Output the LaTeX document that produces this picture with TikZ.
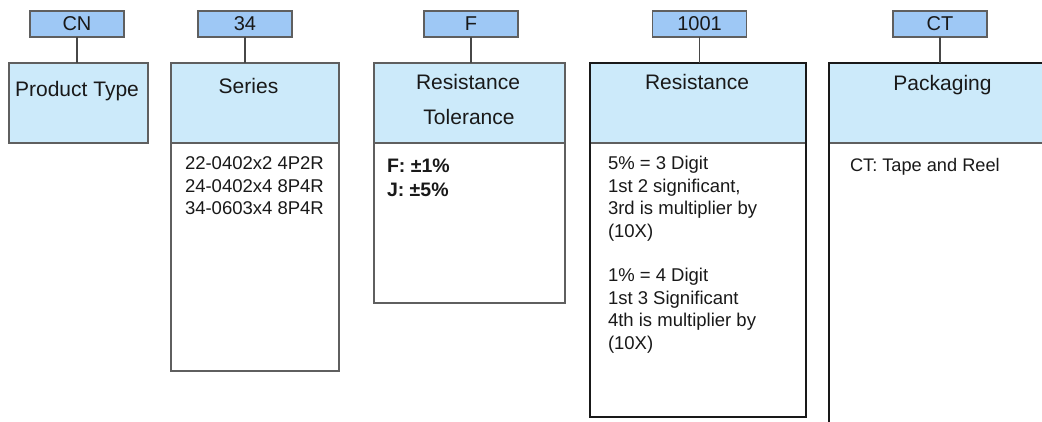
\documentclass[tikz,border=0pt]{standalone}
\usepackage{fontspec}
\setmainfont{Liberation Sans}
\definecolor{codefill}{RGB}{158,200,245}
\definecolor{hdrfill}{RGB}{204,234,250}
\definecolor{edge}{RGB}{95,95,95}
\definecolor{ink}{RGB}{25,25,25}
\newcommand{\lines}[1]{\begin{tabular}[t]{@{}l@{}}#1\end{tabular}}
\begin{document}
\begin{tikzpicture}[x=1pt,y=-1pt,
  every node/.style={inner sep=0pt,outer sep=0pt,text=ink},
  codebox/.style={draw=edge,line width=1.1pt,fill=codefill,minimum width=94pt,minimum height=26pt,
    font=\fontsize{20}{24}\selectfont},
  hdrbox/.style={draw=edge,line width=1.1pt,fill=hdrfill,minimum height=80pt,anchor=north west},
  bodybox/.style={draw=edge,line width=1.1pt,fill=white,anchor=north west},
  hdrtext/.style={anchor=base,font=\fontsize{21}{25}\selectfont},
  bodytext/.style={anchor=base west,font=\fontsize{18.5}{22.4}\selectfont},
  link/.style={draw=ink!80,line width=1.3pt},
  heavy/.style={draw=ink,line width=2.4pt}]
\useasboundingbox (0,0) rectangle (1042,422);
\clip (0,0) rectangle (1042,422);

% part-number code fields
\node[codebox] (cn)  at (77,24)    {CN};
\node[codebox] (ser) at (245,24)   {34};
\node[codebox] (tol) at (471,24)   {F};
\node[codebox] (res) at (699.5,24) {1001};
\node[codebox] (pkg) at (940,24)   {CT};

% column headers
\node[hdrbox,minimum width=139pt] (ptypeh) at (9,63)   {};
\node[hdrbox,minimum width=168pt] (serh)   at (171,63) {};
\node[hdrbox,minimum width=191pt] (tolh)   at (374,63) {};
\node[hdrbox,minimum width=216pt] (resh)   at (590,63) {};
\node[hdrbox,minimum width=240pt] (pkgh)   at (829,63) {};

% column bodies
\node[bodybox,minimum width=168pt,minimum height=228pt] (serb) at (171,143) {};
\node[bodybox,minimum width=191pt,minimum height=160pt] (tolb) at (374,143) {};
\node[bodybox,minimum width=216pt,minimum height=274pt] (resb) at (590,143) {};
\node[bodybox,minimum width=240pt,minimum height=300pt] (pkgb) at (829,143) {};

% heavier outline of the resistance and packaging columns
\draw[heavy] (resh.north west) -- (resb.south west) -- (resb.south east) -- (resh.north east) -- cycle;
\draw[draw=ink,line width=1.6pt] (pkgb.south west) -- (pkgh.north west) -- (pkgh.north east);

% connectors from code fields to headers
\draw[link] (cn.south)  -- (cn.south  |- ptypeh.north);
\draw[link] (ser.south) -- (ser.south |- serh.north);
\draw[link] (tol.south) -- (tol.south |- tolh.north);
\draw[link] (res.south) -- (res.south |- resh.north);
\draw[link] (pkg.south) -- (pkg.south |- pkgh.north);

% header titles
\node[hdrtext] (ptypet) at (77,97)    {Product Type};
\node[hdrtext] (sert)   at (248.5,94) {Series};
\node[hdrtext] (tolt1)  at (468,90)   {Resistance};
\node[hdrtext] (tolt2)  at (469,125)  {Tolerance};
\node[hdrtext] (rest)   at (697,90)   {Resistance};
\node[hdrtext] (pkgt)   at (942.5,91) {Packaging};

% column contents
\node[bodytext] (serlist) at (185,170) {\lines{22-0402x2 4P2R\\24-0402x4 8P4R\\34-0603x4 8P4R}};
\node[bodytext,font=\fontsize{19.5}{24}\selectfont\bfseries] (tollist) at (387,173)
  {\lines{F: ±1\%\\J: ±5\%}};
\node[bodytext] (reslist) at (608,170) {\lines{5\% = 3 Digit\\1st 2 significant,\\3rd is multiplier by\\(10X)\\ \\1\% = 4 Digit\\1st 3 Significant\\4th is multiplier by\\(10X)}};
\node[bodytext,font=\fontsize{18.2}{22}\selectfont] (pkglist) at (850,172) {CT: Tape and Reel};
\end{tikzpicture}
\end{document}
